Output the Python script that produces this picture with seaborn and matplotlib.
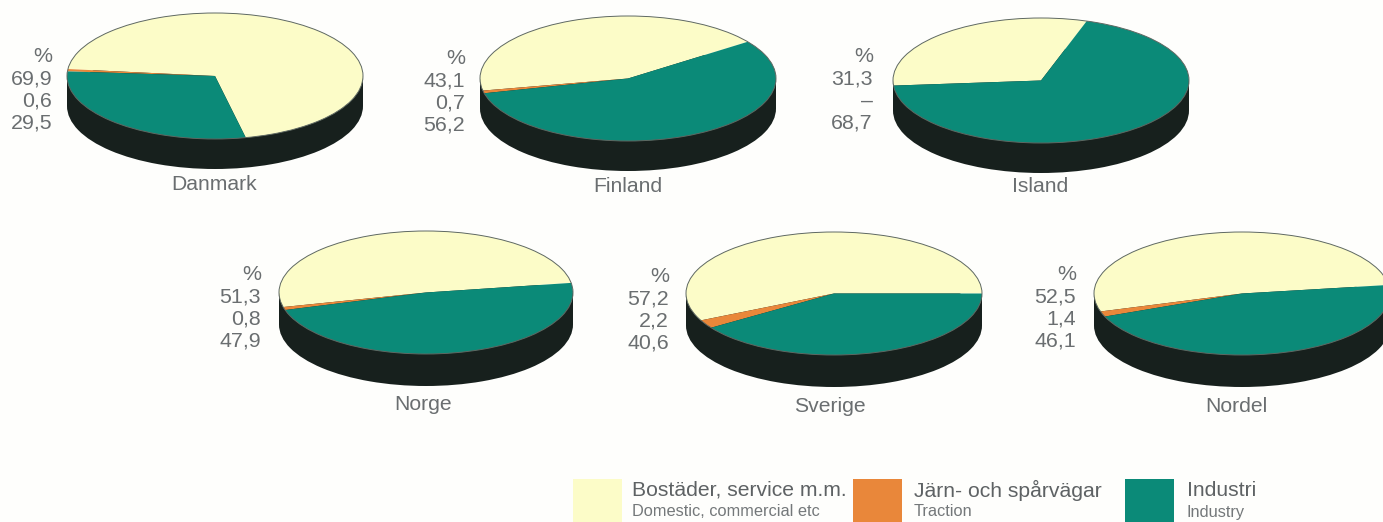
import matplotlib
matplotlib.use("Agg")
import matplotlib.pyplot as plt
from matplotlib.patches import Rectangle
import seaborn as sns

W, H = 1383, 522

countries = ["Danmark", "Finland", "Island", "Norge", "Sverige", "Nordel"]
domestic = [69.9, 43.1, 31.3, 51.3, 57.2, 52.5]
traction = [0.6, 0.7, 0.0, 0.8, 2.2, 1.4]
industry = [29.5, 56.2, 68.7, 47.9, 40.6, 46.1]
legend_top = ["Bostäder, service m.m.", "Järn- och spårvägar", "Industri"]
legend_bottom = ["Domestic, commercial etc", "Traction", "Industry"]

# layout, in pixels: left, right, top of ellipse, bottom of ellipse, bottom of rim, start angle
layout = [
    (67, 363, 13, 139, 169, -78),
    (480, 776, 16, 141, 171, 36),
    (893, 1189, 18, 143, 173, 72),
    (279, 573, 231, 354, 386, 9),
    (686, 982, 232, 355, 387, 0),
    (1094, 1390, 232, 355, 387, 8),
]
label_x = [52, 465, 873, 261, 669, 1076]
label_y0 = [57, 59, 57, 275, 277, 275]
name_y = [184, 187, 187, 405, 406, 406]
name_x = [214, 628, 1040, 423, 830, 1236]
legend_x = [573, 853, 1125]
legend_tx = [632, 914, 1187]

sns.set_theme(style="white")
plt.rcParams["font.family"] = ["Liberation Sans", "DejaVu Sans"]
palette = sns.color_palette(["#fcfcc8", "#e9873a", "#0b8a78"])
dark = "#17201d"
edge = "#5e6862"
txt = "#6a6e70"
bg = "#fefefc"

fig = plt.figure(figsize=(W / 100, H / 100), dpi=100, facecolor=bg)


def fx(p):
    return p / W


def fy(p):
    return 1 - p / H


for i, name in enumerate(countries):
    l, r, t, b, rim, start = layout[i]
    ax = fig.add_axes([fx(l), fy(rim), (r - l) / W, (rim - t) / H], facecolor="none")
    ry = (b - t) / 2
    d = (rim - b) / ry
    ax.pie([1], center=(0, -d), radius=1, colors=[dark], wedgeprops={"linewidth": 0}, normalize=True)
    ax.bar(0, d, width=2, bottom=-d, color=dark, linewidth=0)
    vals = [domestic[i], traction[i], industry[i]]
    ax.pie(vals, startangle=start, colors=palette, wedgeprops={"linewidth": 0}, normalize=True)
    ax.pie([1], wedgeprops={"linewidth": 0.7, "edgecolor": edge, "facecolor": "none"}, normalize=True)
    ax.set_aspect("auto")
    ax.set_xlim(-1, 1)
    ax.set_ylim(-1 - d, 1)
    ax.set_axis_off()
    for w in ax.patches:
        w.set_clip_on(False)

    fig.text(fx(name_x[i]), fy(name_y[i]), name, ha="center", va="center", fontsize=15.2, color=txt)
    strs = ["%"] + [f"{v:.1f}".replace(".", ",") if v > 0 else "–" for v in vals]
    for j, s in enumerate(strs):
        fig.text(fx(label_x[i]), fy(label_y0[i] + j * 22), s, ha="right", va="center", fontsize=15.4, color=txt)

for i in range(3):
    fig.add_artist(Rectangle((fx(legend_x[i]), 0), 49 / W, 43 / H, transform=fig.transFigure,
                             facecolor=palette[i], edgecolor="none"))
    fig.text(fx(legend_tx[i]), fy(490), legend_top[i], ha="left", va="center", fontsize=15.2, color="#5e6264")
    fig.text(fx(legend_tx[i]), fy(512), legend_bottom[i], ha="left", va="center", fontsize=11.8, color="#74787a")

fig.savefig("out.png", dpi=100, facecolor=bg)
